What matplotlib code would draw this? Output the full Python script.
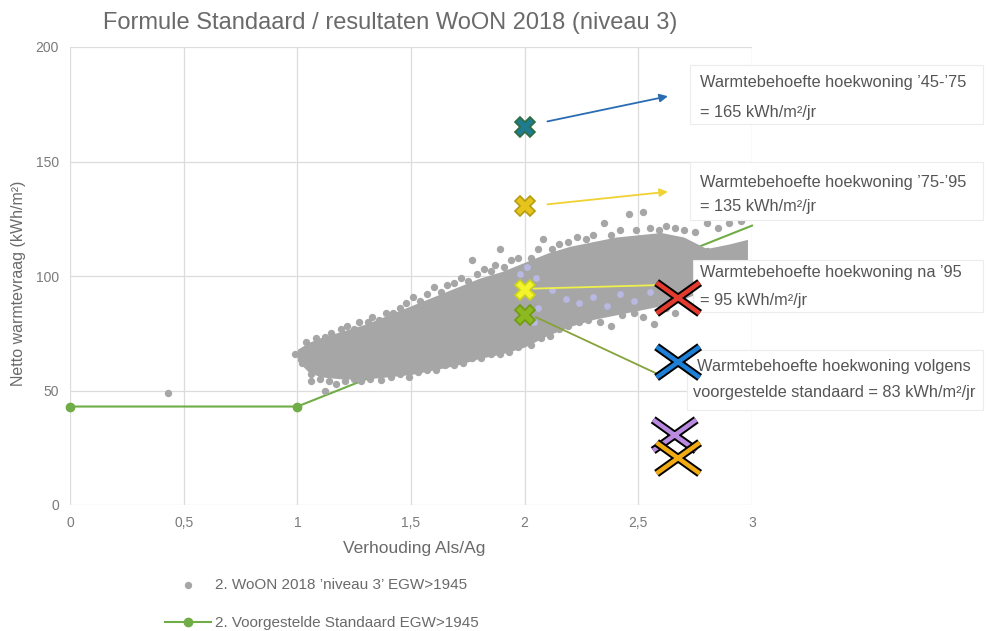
import numpy as np
import matplotlib
matplotlib.use("Agg")
import matplotlib.pyplot as plt
import matplotlib.patheffects as pe
from matplotlib.path import Path
from matplotlib.patches import Rectangle

plt.rcParams['font.family'] = ['Liberation Sans', 'DejaVu Sans']

# --- data ---
x_ticks = [0, 0.5, 1, 1.5, 2, 2.5, 3]
x_tick_labels = ["0", "0,5", "1", "1,5", "2", "2,5", "3"]
y_ticks = [0, 50, 100, 150, 200]

# dense core of the WoON cloud (lower / upper envelope)
core_x = [1.00, 1.05, 1.10, 1.20, 1.30, 1.40, 1.50, 1.60, 1.70, 1.80, 1.90,
          2.00, 2.10, 2.20, 2.30, 2.40, 2.50, 2.60, 2.70, 2.80, 2.90, 2.98]
core_lo = [63, 58, 56, 55, 55, 56, 57, 59, 61, 64, 66,
           69, 74, 78, 81, 83, 85, 87, 90, 94, 98, 102]
core_hi = [68, 71, 73, 76, 79, 83, 87, 91, 95, 99, 102,
           106, 110, 113, 115, 117, 118, 119, 117, 112, 114, 116]

# loose points along the edges of the cloud and outliers
dots_x = [1.04, 1.08, 1.12, 1.15, 1.19, 1.22, 1.25, 1.27, 1.31, 1.33, 1.36, 1.39,
          1.42, 1.45, 1.48, 1.51, 1.54, 1.57, 1.60, 1.63, 1.66, 1.69, 1.72, 1.75,
          1.77, 1.79, 1.82, 1.85, 1.87, 1.89, 1.91, 1.94, 1.97, 2.03, 2.06, 2.08,
          2.12, 2.15, 2.19, 2.23, 2.27, 2.30, 2.35, 2.38, 2.42, 2.46, 2.49, 2.52,
          2.55, 2.59, 2.62, 2.66, 2.70, 2.75, 2.80, 2.85, 2.90, 2.95, 2.99,
          2.80, 2.87, 2.92,
          0.99, 1.02, 1.06, 1.06, 1.10, 1.14, 1.17, 1.21, 1.25, 1.28, 1.32, 1.37,
          1.41, 1.45, 1.49, 1.53, 1.57, 1.61, 1.65, 1.69, 1.73, 1.77, 1.81, 1.85,
          1.89, 1.93, 1.97, 2.03, 2.07, 2.11, 2.15, 2.19, 2.24, 2.28, 2.33, 2.38,
          2.43, 2.48, 2.52, 2.57, 2.62, 2.66,
          0.43, 1.12]
dots_y = [71, 73, 73.5, 75, 77, 78, 77, 80, 80, 82, 81, 84,
          84, 86, 88, 91, 89, 92, 95, 93, 96, 97, 99, 98,
          107, 101, 103, 102, 105, 112, 104, 107, 108, 108, 112, 116,
          112, 114, 115, 117, 116, 118, 123, 118, 120, 127, 120, 128,
          121, 120, 122, 121, 120, 119, 123, 121, 123, 124, 126,
          111, 111, 111,
          66, 62, 57, 54, 55, 54, 53, 54, 55, 54, 55, 54.5,
          56, 57, 56, 58, 59, 59, 61, 61, 62, 64, 64, 66,
          66, 67, 69, 70, 73, 74, 77, 78, 80, 81, 80, 78,
          83, 84, 82, 79, 86, 84,
          49, 50]

# lavender points mixed into the cloud
lav_x = [1.98, 2.01, 2.05, 2.06, 2.12, 2.18, 2.24, 2.30, 2.36, 2.42, 2.48, 2.55, 2.04]
lav_y = [101, 104, 99, 86, 94, 90, 88, 91, 87, 92, 89, 93, 80]

# proposed standard
std_x = [0, 1, 3]
std_y = [43, 43, 122]

# highlighted dwellings at Als/Ag = 2
hw_y = [165, 130.5, 94, 83]
hw_fill = ['#1f7c8e', '#e6c41c', '#f4f42c', '#8cb820']
hw_edge = ['#2f6b3e', '#b59c10', '#c9d21a', '#6f9a12']

# callout arrows / lines (start -> end)
arrow_x0 = [2.10, 2.10]
arrow_y0 = [167.5, 131.3]
arrow_x1 = [2.63, 2.63]
arrow_y1 = [178.5, 136.8]
arrow_col = ['#2a6cb3', '#f0d232']
link_x0 = [2.04, 2.05]
link_y0 = [94.5, 82]
link_x1 = [2.58, 2.60]
link_y1 = [96, 56.5]
link_col = ['#eef04a', '#86a33a']

# big crosses
cross_x = [2.675, 2.675, 2.66, 2.675]
cross_y = [90.4, 62.4, 30.5, 20.5]
cross_col = ['#e33b2e', '#1e7fd6', '#b98ae0', '#f2aa12']

box_text = [
    ("Warmtebehoefte hoekwoning \u201945-\u201975", "= 165 kWh/m\u00b2/jr"),
    ("Warmtebehoefte hoekwoning \u201975-\u201995", "= 135 kWh/m\u00b2/jr"),
    ("Warmtebehoefte hoekwoning na \u201995", "= 95 kWh/m\u00b2/jr"),
    ("Warmtebehoefte hoekwoning volgens", "voorgestelde standaard = 83 kWh/m\u00b2/jr"),
]

W, H = 987, 631
fig = plt.figure(figsize=(W / 100, H / 100), dpi=100)
ax = fig.add_axes([70 / W, 126 / H, 682 / W, 458 / H])
ax.set_xlim(0, 3)
ax.set_ylim(0, 200)

grey = '#a6a6a6'
ax.fill_between(core_x, core_lo, core_hi, color=grey, lw=0, zorder=2)
dots = ax.scatter(dots_x, dots_y, s=28, color=grey, lw=0, zorder=2,
                  label="2. WoON 2018 \u2019niveau 3\u2019 EGW>1945")
ax.scatter(lav_x, lav_y, s=24, color='#b8b8e2', lw=0, zorder=2.1)

std_line, = ax.plot(std_x, std_y, color='#70ad47', lw=1.5, marker='o', ms=6,
                    markevery=[0, 1], clip_on=False, zorder=1.5,
                    label="2. Voorgestelde Standaard EGW>1945")

for x0, y0, x1, y1, c in zip(link_x0, link_y0, link_x1, link_y1, link_col):
    ax.plot([x0, x1], [y0, y1], color=c, lw=1.3, zorder=3.5)
for x0, y0, x1, y1, c in zip(arrow_x0, arrow_y0, arrow_x1, arrow_y1, arrow_col):
    ax.annotate('', xy=(x1, y1), xytext=(x0, y0), zorder=3.5,
                arrowprops=dict(arrowstyle='-|>', color=c, lw=1.3, mutation_scale=12,
                                shrinkA=0, shrinkB=0))

for y, fc, ec in zip(hw_y, hw_fill, hw_edge):
    ax.plot([2], [y], ls='none', marker='X', ms=15, mfc=fc, mec=ec, mew=1.2, zorder=4)

# annotation boxes in pixel layout
boxes = [(690, 65, 983, 124), (690, 162, 983, 220), (693, 260, 983, 312), (687, 350, 983, 410)]
lines_y = [(82, 112), (182, 207), (273, 300), (367, 393)]
text_x = [(700, 700), (700, 700), (700, 700), (697, 693)]
for (l, t, r, b), (y1, y2), (tx1, tx2), (s1, s2) in zip(boxes, lines_y, text_x, box_text):
    ax.add_patch(Rectangle((l / W, 1 - b / H), (r - l) / W, (b - t) / H,
                           transform=fig.transFigure, clip_on=False,
                           facecolor='white', edgecolor='#ececec', lw=0.8, zorder=5))
    ax.text(tx1 / W, 1 - y1 / H, s1, transform=fig.transFigure, fontsize=11.8,
            color='#555555', va='center', ha='left', zorder=6)
    ax.text(tx2 / W, 1 - y2 / H, s2, transform=fig.transFigure, fontsize=11.8,
            color='#555555', va='center', ha='left', zorder=6)

xpath = Path([(-1.4, -1), (1.4, 1), (-1.4, 1), (1.4, -1)],
             [Path.MOVETO, Path.LINETO, Path.MOVETO, Path.LINETO])
for x, y, c in zip(cross_x, cross_y, cross_col):
    ax.plot([x], [y], ls='none', marker=xpath, ms=31, mfc='none', mec=c, mew=3.2,
            zorder=7, clip_on=False,
            path_effects=[pe.Stroke(linewidth=6, foreground='black'), pe.Normal()])

ax.set_xticks(x_ticks)
ax.set_xticklabels(x_tick_labels)
ax.set_yticks(y_ticks)
ax.grid(True, color='#dcdcdc', lw=0.9, zorder=0)
ax.set_axisbelow(True)
for s in ax.spines.values():
    s.set_visible(False)
ax.tick_params(length=0, labelsize=10, labelcolor='#7a7a7a', pad=8)

fig.text(390 / W, 1 - 23 / H, "Formule Standaard / resultaten WoON 2018 (niveau 3)",
         ha='center', va='center', fontsize=17, color='#6a6a6a')
fig.text(414 / W, 1 - 549 / H, "Verhouding Als/Ag", ha='center', va='center',
         fontsize=12.5, color='#6a6a6a')
fig.text(19 / W, 1 - 283 / H, "Netto warmtevraag (kWh/m\u00b2)", rotation=90,
         ha='center', va='center', fontsize=11.5, color='#6a6a6a')

fig.legend(handles=[dots, std_line], loc='upper left',
           bbox_to_anchor=(165 / W, 1 - 578 / H), frameon=False, fontsize=11,
           labelcolor='#6a6a6a', labelspacing=1.6, handlelength=3.0, handletextpad=0.3,
           borderpad=0, borderaxespad=0)

fig.savefig("out.png", dpi=100)
